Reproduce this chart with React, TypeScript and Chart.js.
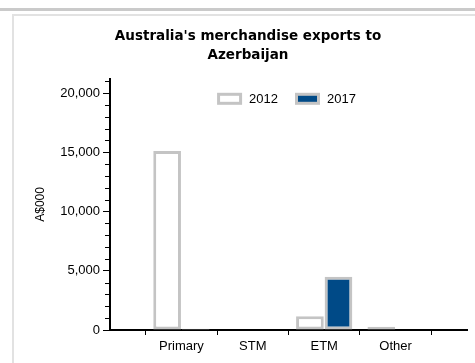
import React, { useEffect, useRef } from "react";
import { Chart, registerables } from "chart.js";

Chart.register(...registerables);

const categories = ["Primary", "STM", "ETM", "Other"];
const seriesLabels = ["2012", "2017"];
const values2012 = [15100, 0, 1150, 280];
const values2017 = [110, 0, 4500, 0];
const yMax = 21200;
const yMajorStep = 5000;
const yMinorStep = 1000;

const AXIS_FONT = "'Liberation Sans', Arial, sans-serif";

const minorTicksPlugin = {
  id: "minorTicks",
  afterDraw(chart: any) {
    const y = chart.scales.y;
    const ctx = chart.ctx;
    const left = chart.chartArea.left;
    ctx.save();
    ctx.strokeStyle = "#000";
    ctx.lineWidth = 1;
    y.ticks.forEach((t: any) => {
      if (t.value % yMajorStep !== 0) {
        const py = Math.round(y.getPixelForValue(t.value)) + 0.5;
        ctx.beginPath();
        ctx.moveTo(left - 5, py);
        ctx.lineTo(left, py);
        ctx.stroke();
      }
    });
    ctx.restore();
  },
};

const legendPlugin = {
  id: "innerLegend",
  afterDraw(chart: any) {
    const ctx = chart.ctx;
    const area = chart.chartArea;
    const boxW = 25;
    const boxH = 12;
    const gap = 7;
    const itemGap = 17;
    ctx.save();
    ctx.font = "13px " + AXIS_FONT;
    const items = chart.data.datasets.map((ds: any) => ({
      ds,
      w: ctx.measureText(ds.label).width,
    }));
    const total =
      items.reduce((s: number, it: any) => s + boxW + gap + it.w, 0) +
      itemGap * (items.length - 1);
    let x = (area.left + area.right) / 2 - total / 2 - 2;
    const top = area.top + 14;
    items.forEach((it: any) => {
      const ds = it.ds;
      const bw = 3;
      ctx.fillStyle = ds.borderColor;
      ctx.fillRect(x, top, boxW, boxH);
      ctx.fillStyle = ds.backgroundColor;
      ctx.fillRect(x + bw, top + bw, boxW - 2 * bw, boxH - 2 * bw);
      ctx.fillStyle = "#000";
      ctx.textBaseline = "middle";
      ctx.textAlign = "left";
      ctx.fillText(ds.label, x + boxW + gap, top + boxH / 2 + 0.5);
      x += boxW + gap + it.w + itemGap;
    });
    ctx.restore();
  },
};

export default function App() {
  const canvasRef = useRef<HTMLCanvasElement | null>(null);

  useEffect(() => {
    document.body.style.overflow = "hidden";
    const labels = ["", ...categories, ""];
    const d2012 = [null, ...values2012, null];
    const d2017 = [null, ...values2017, null];
    const chart = new Chart(canvasRef.current as HTMLCanvasElement, {
      type: "bar",
      data: {
        labels,
        datasets: [
          {
            label: seriesLabels[0],
            data: d2012 as any,
            backgroundColor: "#ffffff",
            borderColor: "#c4c4c4",
            borderWidth: 3,
            borderSkipped: false,
            categoryPercentage: 0.8,
            barPercentage: 0.97,
          },
          {
            label: seriesLabels[1],
            data: d2017 as any,
            backgroundColor: "#004a87",
            borderColor: "#c4c4c4",
            borderWidth: 3,
            borderSkipped: false,
            categoryPercentage: 0.8,
            barPercentage: 0.97,
          },
        ],
      },
      options: {
        animation: false,
        responsive: true,
        maintainAspectRatio: false,
        layout: { padding: { top: 11, left: 15, right: 8, bottom: 0 } },
        plugins: {
          legend: { display: false },
          tooltip: { enabled: false },
          title: {
            display: true,
            text: ["Australia's merchandise exports to", "Azerbaijan"],
            color: "#000",
            font: { family: "'DejaVu Sans', sans-serif", size: 13.5, weight: "bold", lineHeight: 1.4 },
            padding: { top: 0, bottom: 14 },
          },
        },
        scales: {
          x: {
            offset: false,
            grid: {
              display: true,
              drawOnChartArea: false,
              drawTicks: true,
              tickLength: 5,
              tickColor: "#000",
            },
            border: { display: true, color: "#000", width: 2 },
            ticks: {
              color: "#000",
              font: { family: AXIS_FONT, size: 13 },
              padding: 4,
              autoSkip: false,
              maxRotation: 0,
            },
            afterFit(scale: any) {
              scale.height = 33;
            },
          },
          y: {
            min: 0,
            max: yMax,
            grid: {
              display: true,
              drawOnChartArea: false,
              drawTicks: true,
              tickLength: 7,
              tickColor: (ctx: any) =>
                ctx.tick && ctx.tick.value % yMajorStep === 0 ? "#000" : "rgba(0,0,0,0)",
            },
            border: { display: true, color: "#000", width: 2 },
            ticks: {
              autoSkip: false,
              color: "#000",
              padding: 3,
              font: { family: AXIS_FONT, size: 13 },
              callback: (v: any) =>
                Number(v) % yMajorStep === 0 ? Number(v).toLocaleString("en-US") : "",
            },
            afterBuildTicks(scale: any) {
              const ticks: any[] = [];
              for (let v = 0; v <= yMax; v += yMinorStep) ticks.push({ value: v });
              scale.ticks = ticks;
            },
            title: {
              display: true,
              text: "A$000",
              color: "#000",
              font: { family: AXIS_FONT, size: 12 },
              padding: { top: 4, bottom: 0 },
            },
            afterFit(scale: any) {
              scale.width = 81;
            },
          },
        },
      },
      plugins: [minorTicksPlugin, legendPlugin],
    });
    return () => chart.destroy();
  }, []);

  return (
    <div>
      <div
        style={{
          position: "fixed",
          left: 0,
          top: 8,
          width: 475,
          height: 3,
          background: "#cacaca",
        }}
      />
      <div
        style={{
          position: "fixed",
          left: 12,
          top: 14,
          width: 463,
          height: 349,
          boxSizing: "border-box",
          borderLeft: "2px solid #e2e2e2",
          borderTop: "2px solid #e2e2e2",
          background: "#fff",
        }}
      />
      <div
        style={{
          position: "fixed",
          left: 14,
          top: 16,
          width: 461,
          height: 347,
        }}
      >
        <canvas ref={canvasRef} />
      </div>
    </div>
  );
}
